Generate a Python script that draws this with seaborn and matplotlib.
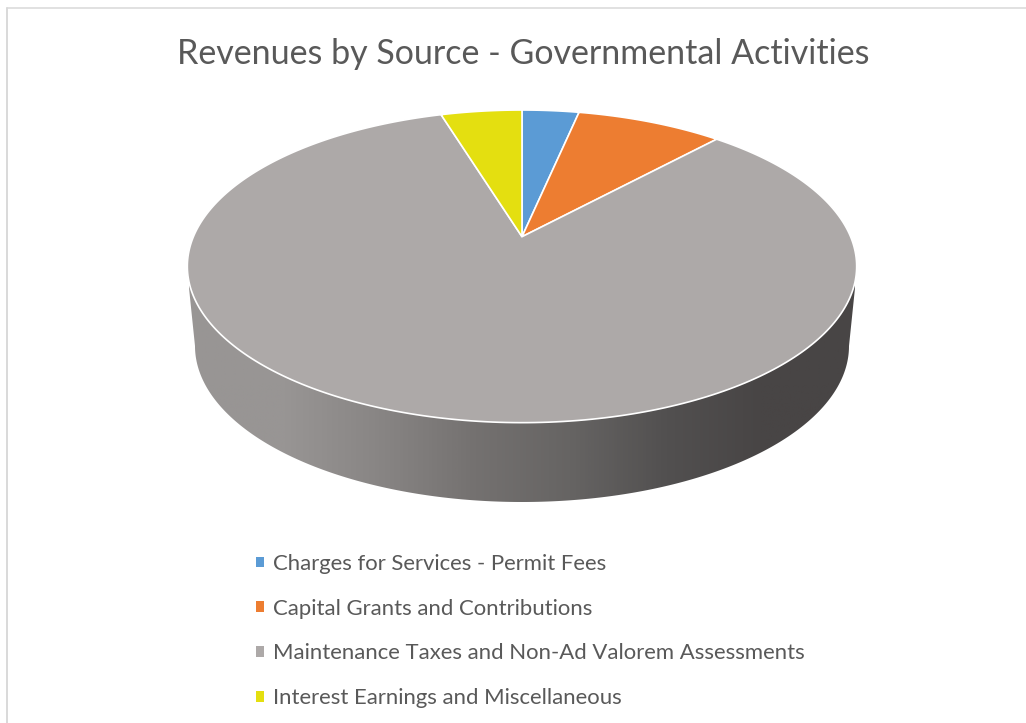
#Revenues by source - tilted pie with a shaded side wall
import numpy as np
import matplotlib
matplotlib.use("Agg")
import matplotlib.pyplot as plt
import seaborn as sns
from matplotlib.patches import Patch, Polygon

categories = ["Charges for Services - Permit Fees",
              "Capital Grants and Contributions",
              "Maintenance Taxes and Non-Ad Valorem Assessments",
              "Interest Earnings and Miscellaneous"]
shares = [3.3, 8.5, 83.5, 4.7]
slice_colors = ["#5B9BD5", "#ED7D31", "#ADA9A8", "#E4DF10"]
title_text = "Revenues by Source - Governmental Activities"

sns.set_theme(style="white")
plt.rcParams["font.family"] = ["Lato", "DejaVu Sans"]
palette = sns.color_palette(slice_colors)
text_col = "#595959"

fig = plt.figure(figsize=(10.26, 7.23), dpi=100)
ax = fig.add_axes([0, 0, 1, 1])

wedges, texts = ax.pie(shares, colors=palette, startangle=90, counterclock=False)

#perspective for the pie top, unit circle to pixels
apex_x, apex_y = 522, 236.7
k, scale_x, scale_y = 0.1896, 328.6, 150.7


def project(x, y):
    d = 1 + k * y
    return apex_x + scale_x * x / d, apex_y - scale_y * y / d


tilted = []
for w in wedges:
    t = np.radians(np.linspace(w.theta1, w.theta2, 300))
    xs = np.r_[0, np.cos(t)]
    ys = np.r_[0, np.sin(t)]
    px, py = project(xs, ys)
    tilted.append(np.column_stack([px, py]))
    w.remove()
for t in texts:
    t.remove()

ax.set_aspect("auto")
ax.set_xlim(0, 1026)
ax.set_ylim(723, 0)
ax.set_axis_off()

#side wall, grey gradient clipped to the lower outline
wall_cmap = sns.blend_palette(["#989594", "#989594", "#888584", "#747170", "#666463",
                               "#525050", "#484545", "#484545"], as_cmap=True)
wall_x = np.linspace(0, 1, 600)[None, :]
grad = ax.imshow(wall_x, cmap=wall_cmap, extent=(188, 858, 510, 260), aspect="auto", zorder=1)
ax.set_xlim(0, 1026)
ax.set_ylim(723, 0)
t = np.linspace(np.pi, 0, 300)
low_x = 522 + 327 * np.cos(t)
low_y = 346 + 156 * np.sin(t)
outline = np.column_stack([np.r_[189, low_x, 855], np.r_[288, low_y, 288]])
outline = np.vstack([outline, [855, 270], [189, 270]])
clip = Polygon(outline, closed=True, transform=ax.transData, facecolor="none", edgecolor="none")
ax.add_patch(clip)
grad.set_clip_path(clip)

for verts, col in zip(tilted, palette):
    ax.add_patch(Polygon(verts, closed=True, facecolor=col, edgecolor="white", linewidth=1.2, zorder=3))

#chart frame, only top and left are in the picture
ax.plot([6.5, 1026], [7.5, 7.5], color="#D9D9D9", lw=1.1, clip_on=False)
ax.plot([6.5, 6.5], [7.5, 723], color="#D9D9D9", lw=1.4, clip_on=False)

ax.set_title(title_text, fontsize=24.5, color=text_col, x=523.5 / 1026, y=1 - 63.5 / 723, pad=0)

handles = [Patch(facecolor=c, edgecolor="none") for c in palette]
ax.legend(handles, categories, loc="upper left", bbox_to_anchor=(256, 554),
          bbox_transform=ax.transData, frameon=False, fontsize=15.9,
          labelcolor=text_col, handlelength=0.37, handleheight=0.37,
          handletextpad=0.4, labelspacing=1.12, borderpad=0, borderaxespad=0)

fig.savefig("out.png", dpi=100)
plt.close()
